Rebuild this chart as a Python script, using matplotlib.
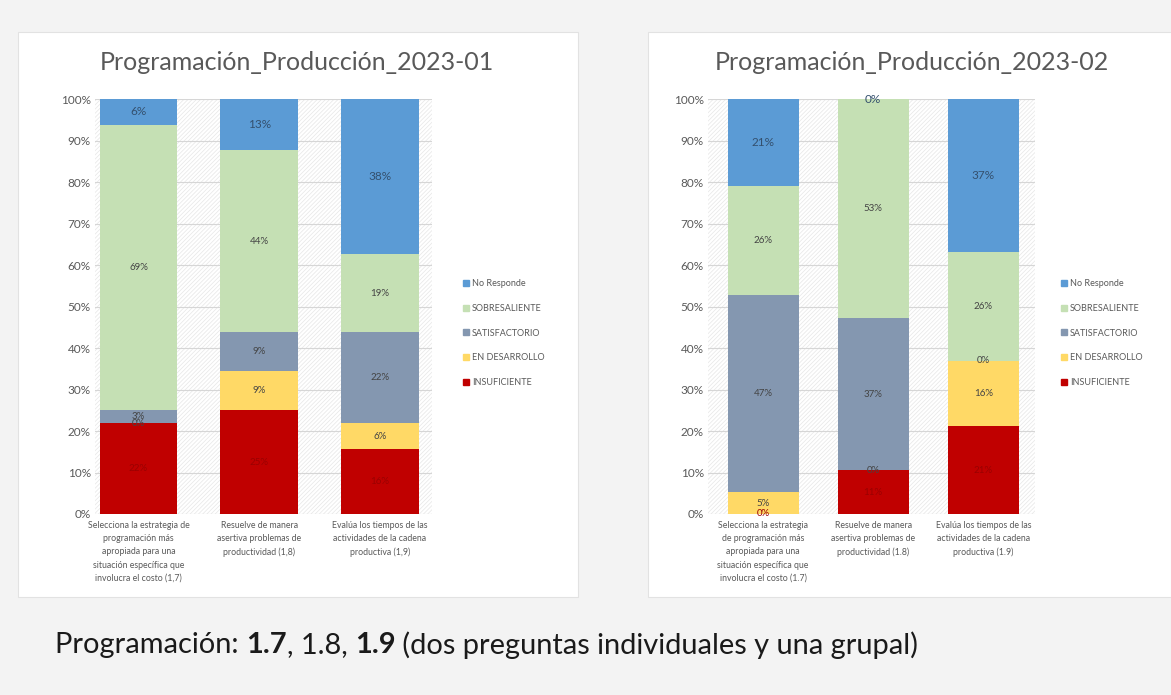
import matplotlib
matplotlib.use('Agg')
import numpy as np
import matplotlib.pyplot as plt
from matplotlib.patches import Rectangle
from matplotlib.lines import Line2D

plt.rcParams['font.family'] = ['Lato', 'DejaVu Sans']
plt.rcParams['hatch.linewidth'] = 0.5

series = ['INSUFICIENTE', 'EN DESARROLLO', 'SATISFACTORIO', 'SOBRESALIENTE', 'No Responde']
colors = ['#c00000', '#ffd966', '#8497b0', '#c5e0b4', '#5b9bd5']

cats_01 = ['Selecciona la estrategia de\nprogramación más\napropiada para una\nsituación específica que\ninvolucra el costo (1,7)',
           'Resuelve de manera\nasertiva problemas de\nproductividad (1,8)',
           'Evalúa los tiempos de las\nactividades de la cadena\nproductiva (1,9)']
cats_02 = ['Selecciona la estrategia\nde programación más\napropiada para una\nsituación específica que\ninvolucra el costo (1.7)',
           'Resuelve de manera\nasertiva problemas de\nproductividad (1.8)',
           'Evalúa los tiempos de las\nactividades de la cadena\nproductiva (1.9)']

# porcentajes por serie (INSUF, EN DES, SATIS, SOBRE, NR) para cada pregunta
insuf_01 = [21.9, 25.0, 15.6]
endes_01 = [0.0, 9.4, 6.3]
satis_01 = [3.1, 9.4, 21.9]
sobre_01 = [68.8, 43.8, 18.8]
nr_01 = [6.3, 12.5, 37.5]

insuf_02 = [0.0, 10.5, 21.1]
endes_02 = [5.3, 0.0, 15.8]
satis_02 = [47.4, 36.8, 0.0]
sobre_02 = [26.3, 52.6, 26.3]
nr_02 = [21.1, 0.0, 36.8]

W, H = 1171, 695
fig = plt.figure(figsize=(W / 100, H / 100), dpi=100, facecolor='#f3f3f3')

def px(x0, y0, x1, y1):
    return [x0 / W, 1 - y1 / H, (x1 - x0) / W, (y1 - y0) / H]

# paneles blancos
for (x0, y0, x1, y1) in [(18, 32, 578, 597), (648, 32, 1171, 597)]:
    fig.patches.append(Rectangle((x0 / W, 1 - y1 / H), (x1 - x0) / W, (y1 - y0) / H,
                                 transform=fig.transFigure, facecolor='white',
                                 edgecolor='#e2e2e2', lw=0.8, zorder=-5))

def chart(rect, xlim, cats, data, title, title_x, legend_x):
    ax = fig.add_axes(px(*rect))
    ax.add_patch(Rectangle((0, 0), 1, 1, transform=ax.transAxes, facecolor='white',
                           edgecolor='#e6e6e6', hatch='////////', lw=0, zorder=0))
    ax.set_facecolor('none')
    ax.set_axisbelow(True)
    ax.yaxis.grid(True, color='#d6d6d6', lw=0.8, zorder=0.5)
    x = np.arange(len(cats))
    bottom = np.zeros(len(cats))
    for name, vals, col in zip(series, data, colors):
        vals = np.array(vals)
        ax.bar(x, vals, 0.645, bottom=bottom, color=col, label=name, zorder=2)
        for xi, b, v in zip(x, bottom, vals):
            if name == 'INSUFICIENTE':
                tc, fs = '#9a0000', 7
            elif name == 'No Responde':
                tc, fs = '#34506e', 8.5
            else:
                tc, fs = '#444444', 7
            ax.text(xi, b + v / 2, '%d%%' % int(v + 0.5), ha='center', va='center',
                    fontsize=fs, color=tc, zorder=3)
        bottom += vals
    ax.set_xlim(*xlim)
    ax.set_ylim(0, 100)
    ax.set_yticks(np.arange(0, 101, 10))
    ax.set_yticklabels(['%d%%' % v for v in range(0, 101, 10)], fontsize=8.5, color='#595959')
    ax.set_xticks(x)
    ax.set_xticklabels(cats, fontsize=6.3, color='#595959', linespacing=1.6)
    ax.tick_params(length=0, pad=5)
    ax.tick_params(axis='y', pad=3)
    for s in ax.spines.values():
        s.set_visible(False)
    fig.text(title_x / W, 1 - 62 / H, title, ha='center', va='center',
             fontsize=18, color='#595959')
    handles = [Line2D([], [], marker='s', ls='', color=c, markersize=4.5) for c in colors[::-1]]
    fig.legend(handles, series[::-1], loc='upper left',
               bbox_to_anchor=(legend_x / W, 1 - 279 / H), frameon=False,
               fontsize=6.5, labelcolor='#595959', handlelength=0.6,
               handletextpad=0.4, labelspacing=1.75, borderaxespad=0, borderpad=0)
    return ax

chart((95, 99, 432, 514), (-0.36, 2.43), cats_01,
      [insuf_01, endes_01, satis_01, sobre_01, nr_01],
      'Programación_Producción_2023-01', 297, 463)
chart((708, 99, 1035, 514), (-0.5, 2.47), cats_02,
      [insuf_02, endes_02, satis_02, sobre_02, nr_02],
      'Programación_Producción_2023-02', 912, 1061)

# texto inferior con partes en negrita
renderer = fig.canvas.get_renderer()
parts = [('Programación: ', 'normal'), ('1.7', 'bold'), (', 1.8, ', 'normal'),
         ('1.9', 'bold'), (' (dos preguntas individuales y una grupal)', 'normal')]
xpos = 55
for txt, wt in parts:
    t = fig.text(xpos / W, 1 - 645 / H, txt, fontsize=20.9, fontweight=wt,
                 color='#1a1a1a', va='center', ha='left')
    bb = t.get_window_extent(renderer)
    xpos += bb.width

fig.savefig('out.png', dpi=100, facecolor=fig.get_facecolor())
